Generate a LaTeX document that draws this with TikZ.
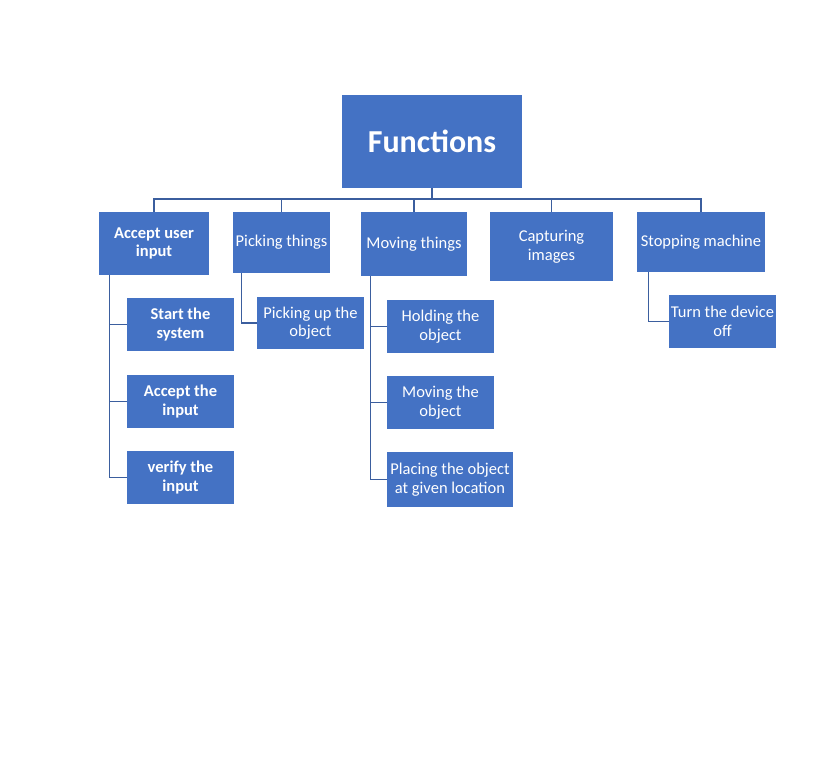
\documentclass[tikz,border=0pt]{standalone}
\usepackage{fontspec}
\setmainfont{Carlito}
\definecolor{boxblue}{HTML}{4472C4}
\definecolor{lineblue}{HTML}{3B5E9E}
\begin{document}
\begin{tikzpicture}[x=1pt, y=-1pt,
          every node/.style = {rectangle, fill=boxblue, text=white, align=center, inner sep=2pt,
            font=\fontsize{16.5}{18.5}\selectfont},
          top/.style={minimum width=180pt, minimum height=93pt, font=\fontsize{32}{36}\selectfont\bfseries},
          strong/.style={font=\fontsize{16.5}{18.5}\selectfont\bfseries},
          link/.style={draw=lineblue, line width=1.2pt}]
          \useasboundingbox (0,0) rectangle (824,779);
          \node[top] (fun) at (432,141.5) {Functions};
          % first level
          \node[strong, minimum width=110pt, minimum height=63pt] (acc) at (154,243.5) {Accept user\\input};
          \node[minimum width=97pt, minimum height=61pt] (pick) at (281.5,242.5) {Picking things};
          \node[minimum width=106pt, minimum height=64pt] (mov) at (414,244) {Moving things};
          \node[minimum width=123pt, minimum height=69pt] (cap) at (551.5,246.5) {Capturing\\images};
          \node[minimum width=128pt, minimum height=60pt] (stop) at (701,242) {Stopping machine};
          % second level
          \node[strong, minimum width=107pt, minimum height=53pt] (acc1) at (180.5,324.5) {Start the\\system};
          \node[strong, minimum width=107pt, minimum height=53pt] (acc2) at (180.5,401.5) {Accept the\\input};
          \node[strong, minimum width=107pt, minimum height=53pt] (acc3) at (180.5,477.5) {verify the\\input};
          \node[minimum width=107pt, minimum height=52pt] (pick1) at (310.5,323) {Picking up the\\object};
          \node[minimum width=107pt, minimum height=53pt] (mov1) at (440.5,326.5) {Holding the\\object};
          \node[minimum width=107pt, minimum height=53pt] (mov2) at (440.5,402.5) {Moving the\\object};
          \node[minimum width=126pt, minimum height=55pt] (mov3) at (450,479.5) {Placing the object\\at given location};
          \node[minimum width=107pt, minimum height=53pt] (stop1) at (722.5,321.5) {Turn the device\\off};
          % connectors
          \coordinate (bus) at (432,199);
          \draw[link] (fun.south) -- (bus);
          \foreach \n in {acc,pick,mov,cap,stop}
            \draw[link] (\n.north) |- (bus);
          \foreach \n in {acc1,acc2,acc3}
            \draw[link] ([xshift=11pt]acc.south west) |- (\n.west);
          \draw[link] ([xshift=9pt]pick.south west) |- (pick1.west);
          \foreach \n in {mov1,mov2,mov3}
            \draw[link] ([xshift=10pt]mov.south west) |- (\n.west);
          \draw[link] ([xshift=12pt]stop.south west) |- (stop1.west);
        \end{tikzpicture}
\end{document}
